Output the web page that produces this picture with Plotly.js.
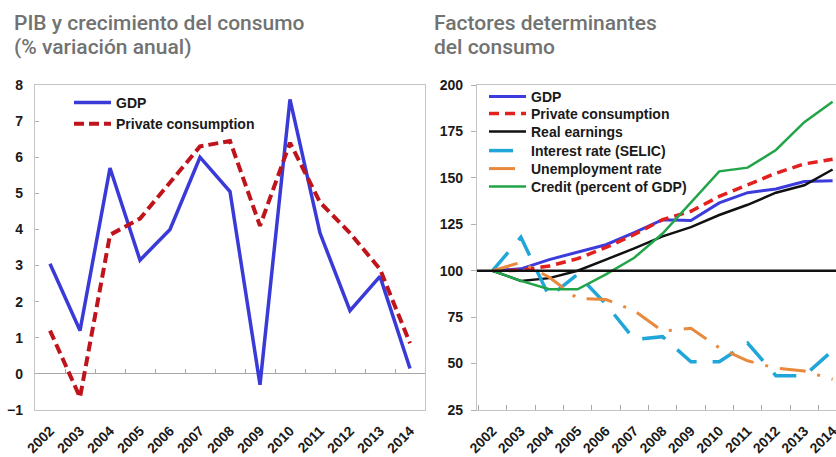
<!DOCTYPE html>
<html>
<head>
<meta charset="utf-8">
<script src="https://cdn.plot.ly/plotly-3.0.1.min.js"></script>
<style>html,body{margin:0;padding:0;background:#fff;}#chart{width:836px;height:457px;}</style>
</head>
<body>
<div id="chart"></div>
<script>
// ---- Data ----
var years = [2002, 2003, 2004, 2005, 2006, 2007, 2008, 2009, 2010, 2011, 2012, 2013, 2014];
var yearLabels = ["2002", "2003", "2004", "2005", "2006", "2007", "2008", "2009", "2010", "2011", "2012", "2013", "2014"];

// Left panel: annual % change
var gdpGrowth = [3.05, 1.2, 5.7, 3.15, 4.0, 6.0, 5.05, -0.3, 7.6, 3.9, 1.75, 2.7, 0.15];
var consumptionGrowth = [1.2, -0.65, 3.85, 4.3, 5.3, 6.3, 6.45, 4.1, 6.4, 4.75, 3.9, 2.9, 0.85];

// Right panel: index 2002 = 100
var gdpIndex = [100, 101, 106, 110, 114, 120.5, 127.5, 127, 136.5, 142, 144, 148, 148.5];
var consumptionIndex = [100, 100.3, 102.5, 106.5, 112.5, 119.5, 127.5, 132, 140, 146.5, 152.5, 157.5, 160];
var realEarnings = [100, 94.5, 96, 100, 106, 112, 118.5, 123.5, 130, 135.5, 142, 146, 154.5];
var interestRate = [100, 118, 86, 98, 82, 63, 64.5, 51, 51, 61, 43.5, 43.5, 57];
var unemploymentRate = [100, 104.5, 96.5, 85, 84.5, 78.5, 67.5, 69, 58.5, 51.5, 47.5, 46, 41.5];
var creditGDP = [100, 94.5, 90, 90, 98, 107, 120, 137, 153.5, 155.5, 165, 180, 191];
var baseLevel = 100;

var seriesNamesLeft = ["GDP", "Private consumption"];
var seriesNamesRight = ["GDP", "Private consumption", "Real earnings", "Interest rate (SELIC)", "Unemployment rate", "Credit (percent of GDP)"];
var titleLeft = ["PIB y crecimiento del consumo", "(% variación anual)"];
var titleRight = ["Factores determinantes", "del consumo"];

// ---- Layout helpers ----
var W = 836, H = 457;
function px(x) { return x / W; }
function py(y) { return (H - y) / H; }
var FONT = 'Arial, "Liberation Sans", sans-serif';
var TFONT = 'Roboto, Arial, sans-serif';
var tickFont = {family: FONT, size: 14, color: '#1a1a1a', weight: 'bold'};
var legFont = {family: FONT, size: 14, color: '#1a1a1a', weight: 'bold'};
var titleFont = {family: TFONT, size: 21, color: '#727272', weight: 500};
var borderCol = '#c4c4c4';

var rightStyles = [
  {color: '#3c3cdc', width: 3},
  {color: '#e3201e', width: 3.5, dash: '10px,6px'},
  {color: '#111111', width: 2.5},
  {color: '#21a6da', width: 3.5, dash: '24px,16px'},
  {color: '#e8893c', width: 3, dash: '26px,12px,3px,12px'},
  {color: '#22a548', width: 2.5}
];
var rightSeries = [gdpIndex, consumptionIndex, realEarnings, interestRate, unemploymentRate, creditGDP];

var traces = [
  {x: years, y: gdpGrowth, xaxis: 'x', yaxis: 'y', name: seriesNamesLeft[0], mode: 'lines',
   line: {color: '#3a3ad8', width: 3.5}, legend: 'legend'},
  {x: years, y: consumptionGrowth, xaxis: 'x', yaxis: 'y', name: seriesNamesLeft[1], mode: 'lines',
   line: {color: '#c0141c', width: 4, dash: '10px,5px'}, legend: 'legend'},
  {x: years, y: gdpGrowth, xaxis: 'x3', yaxis: 'y', mode: 'lines', opacity: 0, showlegend: false, hoverinfo: 'skip'}
];
for (var i = 0; i < rightSeries.length; i++) {
  traces.push({x: years, y: rightSeries[i], xaxis: 'x2', yaxis: 'y2', name: seriesNamesRight[i], mode: 'lines',
    line: rightStyles[i], legend: 'legend' + (i + 2)});
}

var yDom = [py(410), py(85)];

var layout = {
  width: W, height: H,
  margin: {l: 0, r: 0, t: 0, b: 0},
  paper_bgcolor: '#ffffff', plot_bgcolor: '#ffffff',
  showlegend: true,
  xaxis: {
    domain: [px(35), px(425)], anchor: 'y', range: [2001.5, 2014.5],
    tickmode: 'array', tickvals: years, ticktext: yearLabels, tickangle: -45,
    ticks: '', showgrid: false, zeroline: false, ticklabelstandoff: 6,
    showline: true, mirror: true, linecolor: borderCol, linewidth: 1.2,
    tickfont: tickFont, ticklabeloverflow: 'allow'
  },
  xaxis3: {
    overlaying: 'x', anchor: 'free', position: py(374), range: [2001.5, 2014.5],
    tickmode: 'linear', tick0: 2002.5, dtick: 1, ticks: 'inside', ticklen: 5, tickcolor: '#a8a8a8',
    showticklabels: false, showgrid: false, zeroline: false, showline: false
  },
  yaxis: {
    domain: yDom, anchor: 'x', range: [-1, 8],
    tickmode: 'linear', tick0: -1, dtick: 1, ticks: 'inside', ticklen: 4, tickcolor: '#b0b0b0',
    showgrid: false, zeroline: true, zerolinecolor: '#a8a8a8', zerolinewidth: 1.2,
    showline: true, mirror: true, linecolor: borderCol, linewidth: 1.2,
    tickfont: tickFont, ticklabelstandoff: 8
  },
  xaxis2: {
    domain: [px(477), 1], anchor: 'y2', range: [2001.45, 2014.12],
    tickmode: 'array', tickvals: years, ticktext: yearLabels, tickangle: -45,
    ticks: '', showgrid: false, zeroline: false, ticklabelstandoff: 6,
    minor: {tickmode: 'linear', tick0: 2002.5, dtick: 1, ticks: 'inside', ticklen: 5, tickcolor: '#a8a8a8', showgrid: false},
    showline: true, mirror: true, linecolor: borderCol, linewidth: 1.2,
    tickfont: tickFont, ticklabeloverflow: 'allow'
  },
  yaxis2: {
    domain: yDom, anchor: 'x2', range: [25, 200],
    tickmode: 'linear', tick0: 25, dtick: 25, ticks: 'outside', ticklen: 5, tickcolor: '#b0b0b0',
    showgrid: false, zeroline: false, ticklabelstandoff: 5,
    showline: true, mirror: true, linecolor: borderCol, linewidth: 1.2,
    tickfont: tickFont
  },
  legend: {
    x: px(69), y: py(87), xanchor: 'left', yanchor: 'top', itemwidth: 37,
    bgcolor: 'rgba(0,0,0,0)', borderwidth: 0, font: legFont, traceorder: 'normal'
  },
  shapes: [
    {type: 'line', xref: 'x2 domain', yref: 'y2', x0: 0, x1: 1, y0: baseLevel, y1: baseLevel,
     line: {color: '#111111', width: 2.5}, layer: 'above'}
  ],
  annotations: [
    {text: titleLeft[0], xref: 'paper', yref: 'paper', x: px(12), y: py(23), xanchor: 'left', yanchor: 'middle',
     showarrow: false, font: titleFont},
    {text: titleLeft[1], xref: 'paper', yref: 'paper', x: px(12), y: py(47), xanchor: 'left', yanchor: 'middle',
     showarrow: false, font: titleFont},
    {text: titleRight[0], xref: 'paper', yref: 'paper', x: px(432), y: py(23), xanchor: 'left', yanchor: 'middle',
     showarrow: false, font: titleFont},
    {text: titleRight[1], xref: 'paper', yref: 'paper', x: px(432), y: py(47), xanchor: 'left', yanchor: 'middle',
     showarrow: false, font: titleFont}
  ]
};
// one single-entry legend per right-panel row, to follow the reference row spacing
var rowCenters = [97, 114, 132, 151, 169, 187];
for (var k = 0; k < rowCenters.length; k++) {
  layout['legend' + (k + 2)] = {
    x: px(484), y: py(rowCenters[k] - 16), xanchor: 'left', yanchor: 'top', itemwidth: 37,
    bgcolor: 'rgba(0,0,0,0)', borderwidth: 0, font: legFont
  };
}

Plotly.newPlot('chart', traces, layout, {displayModeBar: false, staticPlot: true});
</script>
</body>
</html>
